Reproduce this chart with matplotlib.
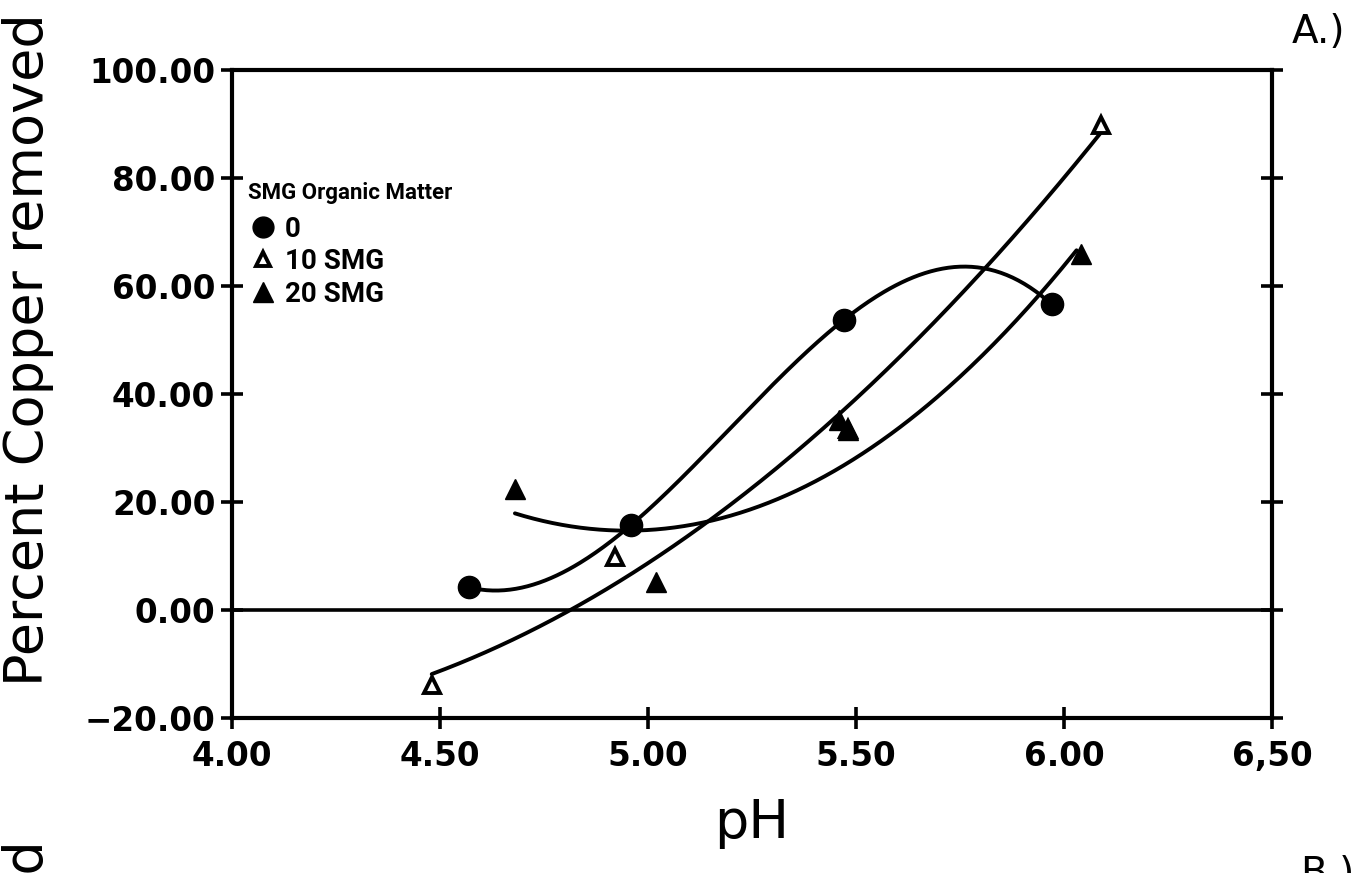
import numpy as np
import matplotlib.pyplot as plt
from matplotlib.lines import Line2D

# data (pH vs percent copper removed)
ph_0 = [4.57, 4.96, 5.47, 5.97]
cu_0 = [4.2, 15.8, 53.7, 56.6]

ph_10 = [4.48, 4.92, 5.48, 6.09]
cu_10 = [-13.9, 9.8, 33.5, 89.8]

ph_20 = [4.68, 5.02, 5.46, 5.48, 6.04]
cu_20 = [22.4, 5.2, 35.2, 33.3, 65.9]

# the 20 SMG regression curve does not follow a plain fit of the points,
# so a few positions along the drawn curve were read off too
fit20_ph = [4.68, 4.93, 5.10, 5.51, 5.61, 5.80, 5.94, 6.03]
fit20_cu = [18.1, 14.8, 15.4, 27.8, 33.9, 48.7, 59.3, 65.0]

x_ticks = [4.0, 4.5, 5.0, 5.5, 6.0, 6.5]
x_labels = ['4.00', '4.50', '5.00', '5.50', '6.00', '6,50']
y_ticks = [-20, 0, 20, 40, 60, 80, 100]
y_labels = ['\u221220.00', '0.00', '20.00', '40.00', '60.00', '80.00', '100.00']

legend_title = 'SMG Organic Matter'
legend_labels = ['0', '10 SMG', '20 SMG']

fig = plt.figure(figsize=(13.57, 8.73), dpi=100)
ax = fig.add_axes([0.171, 0.1775, 0.7664, 0.7423])

def fit_curve(x, y, deg):
    xs = np.linspace(min(x), max(x), 300)
    return xs, np.polyval(np.polyfit(x, y, deg), xs)

# cubic for the control, quadratics for the amended soils
for x, y, deg in [(ph_0, cu_0, 3), (ph_10, cu_10, 2), (fit20_ph, fit20_cu, 2)]:
    xs, ys = fit_curve(x, y, deg)
    ax.plot(xs, ys, color='black', lw=2.8, solid_capstyle='round', zorder=2)

ax.axhline(0, color='black', lw=2.6, zorder=1)

ax.plot(ph_0, cu_0, 'o', color='black', ms=16, zorder=3)
ax.plot(ph_10, cu_10, '^', mfc='white', mec='black', mew=2.8, ms=11, zorder=3)
ax.plot(ph_20, cu_20, '^', color='black', ms=15, zorder=4)

ax.set_xlim(4, 6.5)
ax.set_ylim(-20, 100)
ax.set_xticks(x_ticks)
ax.set_xticklabels(x_labels)
ax.set_yticks(y_ticks)
ax.set_yticklabels(y_labels)
for lab in ax.get_xticklabels() + ax.get_yticklabels():
    lab.set_fontweight('bold')

for s in ax.spines.values():
    s.set_linewidth(3)
ax.tick_params(direction='inout', length=16, width=2.6, labelsize=23.5,
               right=True, top=False)
ax.tick_params(axis='y', pad=4)
ax.tick_params(axis='x', pad=8)

handles = [
    Line2D([], [], ls='none', marker='o', color='black', ms=15),
    Line2D([], [], ls='none', marker='^', mfc='white', mec='black', mew=2.8, ms=10),
    Line2D([], [], ls='none', marker='^', color='black', ms=14),
]
leg = ax.legend(handles, legend_labels, title=legend_title, loc='upper left',
                bbox_to_anchor=(0.010, 0.835), frameon=False, alignment='left',
                prop={'family': 'Roboto', 'weight': 'bold', 'size': 20},
                title_fontproperties={'family': 'Roboto', 'weight': 'bold', 'size': 16},
                handlelength=1.08, handletextpad=0.25, labelspacing=0.2,
                borderpad=0.2, borderaxespad=0)
leg._legend_box.sep = 8

fig.text(28 / 1357, 1 - 350 / 873, 'Percent Copper removed', rotation=90,
         ha='center', va='center', fontsize=39)
fig.text(752 / 1357, 1 - 838 / 873, 'pH', ha='center', va='baseline', fontsize=39)
fig.text(1292 / 1357, 1 - 43 / 873, 'A.)', ha='left', va='baseline', fontsize=28)
# pieces of the next panel that are cut off at the bottom edge
fig.text(1300 / 1357, 1 - 855 / 873, 'B.)', ha='left', va='top', fontsize=28)
fig.text(28 / 1357, 1 - 840 / 873, 'Percent Copper removed', rotation=90,
         ha='center', va='top', fontsize=39)

fig.savefig('out.png', dpi=100)
